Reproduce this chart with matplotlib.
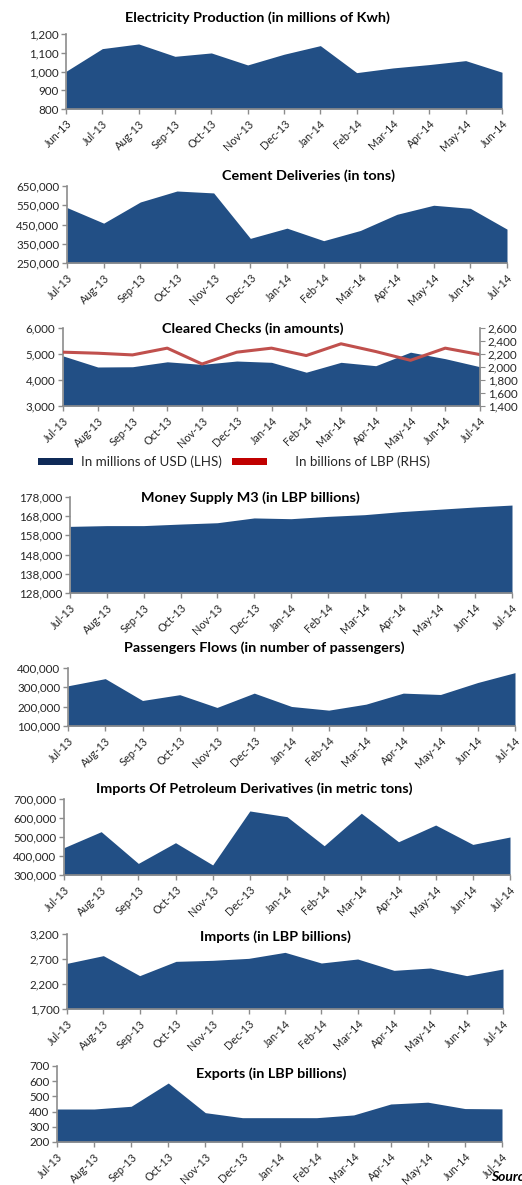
import numpy as np
import matplotlib
matplotlib.use("Agg")
import matplotlib.pyplot as plt
from matplotlib.patches import Patch

plt.rcParams['font.family'] = ['Lato', 'DejaVu Sans']

# ---- data ----
months_jun = ["Jun-13", "Jul-13", "Aug-13", "Sep-13", "Oct-13", "Nov-13", "Dec-13",
              "Jan-14", "Feb-14", "Mar-14", "Apr-14", "May-14", "Jun-14"]
months_jul = ["Jul-13", "Aug-13", "Sep-13", "Oct-13", "Nov-13", "Dec-13", "Jan-14",
              "Feb-14", "Mar-14", "Apr-14", "May-14", "Jun-14", "Jul-14"]

electricity = [1001, 1122, 1147, 1081, 1099, 1035, 1092, 1138, 994, 1019, 1037, 1058, 996]
cement = [538000, 457000, 567000, 624000, 614000, 378000, 431000, 366000, 419000,
          503000, 550000, 534000, 426000]
checks_usd = [4927, 4500, 4510, 4700, 4600, 4730, 4680, 4300, 4680, 4550, 5070, 4820, 4510]
checks_lbp = [2228, 2212, 2186, 2290, 2046, 2228, 2290, 2176, 2357, 2238, 2103, 2290, 2191]
money_m3 = [162700, 163100, 163100, 163900, 164600, 167100, 166700, 167900, 168800,
            170400, 171600, 172800, 173800]
passengers = [308000, 345000, 232000, 262000, 196000, 270000, 201000, 182000, 213000,
              270000, 263000, 325000, 376000]
petroleum = [444000, 528000, 361000, 470000, 353000, 637000, 607000, 454000, 625000,
             475000, 563000, 461000, 500000]
imports = [2613, 2767, 2367, 2653, 2673, 2713, 2833, 2620, 2700, 2473, 2520, 2367, 2500]
exports = [417, 417, 435, 588, 393, 360, 360, 360, 378, 450, 462, 420, 418]

FILL = "#224f85"
AXIS = "#8c8c8c"
TEXT = "#262626"
YTICK_SIZE = 8.4
XTICK_SIZE = 7.9
W, H = 522, 1185

fig = plt.figure(figsize=(W / 100, H / 100), dpi=100)


def box(left, top, right, bottom):
    return [left / W, 1 - bottom / H, (right - left) / W, (bottom - top) / H]


def area_panel(rect, values, labels, yticks, title, title_xy, fmt="{:,.0f}"):
    ax = fig.add_axes(box(*rect))
    x = np.arange(len(values))
    ax.fill_between(x, values, yticks[0], color=FILL, lw=0)
    ax.set_xlim(0, len(values) - 1)
    ax.set_ylim(yticks[0], yticks[-1])
    ax.set_yticks(yticks)
    ax.set_yticklabels([fmt.format(v) for v in yticks])
    ax.set_xticks(x)
    ax.set_xticklabels(labels, rotation=45, ha="right", rotation_mode="anchor")
    for s in ["top", "right"]:
        ax.spines[s].set_visible(False)
    for s in ["left", "bottom"]:
        ax.spines[s].set_color(AXIS)
        ax.spines[s].set_linewidth(1.2)
    ax.tick_params(axis="both", colors=AXIS, labelcolor=TEXT,
                   length=3.5, width=1, pad=2)
    ax.tick_params(axis="y", labelsize=YTICK_SIZE)
    ax.tick_params(axis="x", labelsize=XTICK_SIZE, pad=3)
    fig.text(title_xy[0] / W, 1 - title_xy[1] / H, title, ha="center", va="center",
             fontsize=10.4, fontweight="bold", color="black")
    return ax


area_panel((66, 34, 502, 109), electricity, months_jun, [800, 900, 1000, 1100, 1200],
           "Electricity Production (in millions of Kwh)", (257, 18))

area_panel((67, 186, 507, 263), cement, months_jul,
           [250000, 350000, 450000, 550000, 650000],
           "Cement Deliveries (in tons)", (308, 176))

ax3 = area_panel((63, 328, 480, 406), checks_usd, months_jul, [3000, 4000, 5000, 6000],
                 "Cleared Checks (in amounts)", (253, 329))
ax3r = ax3.twinx()
ax3r.plot(np.arange(len(checks_lbp)), checks_lbp, color="#c0504d", lw=2.2)
ax3r.set_ylim(1400, 2600)
rticks = [1400, 1600, 1800, 2000, 2200, 2400, 2600]
ax3r.set_yticks(rticks)
ax3r.set_yticklabels([f"{v:,}" for v in rticks])
for s in ["top", "left", "bottom"]:
    ax3r.spines[s].set_visible(False)
ax3r.spines["right"].set_color(AXIS)
ax3r.spines["right"].set_linewidth(1.2)
ax3r.tick_params(axis="y", colors=AXIS, labelcolor=TEXT, labelsize=YTICK_SIZE,
                 length=3.5, pad=2)

handles = [Patch(facecolor="#0f2a57", edgecolor="none"),
           Patch(facecolor="#c00000", edgecolor="none")]
fig.legend(handles, ["In millions of USD (LHS)", "      In billions of LBP (RHS)"],
           loc="center left", bbox_to_anchor=(26 / W, 1 - 462 / H), ncol=2,
           frameon=False, fontsize=9.6, handlelength=2.6, handleheight=0.5,
           handletextpad=0.6, columnspacing=0.8, labelcolor=TEXT)

area_panel((70, 497, 512, 593), money_m3, months_jul,
           [128000, 138000, 148000, 158000, 168000, 178000],
           "Money Supply M3 (in LBP billions)", (250, 498))

area_panel((68, 668, 515, 726), passengers, months_jul,
           [100000, 200000, 300000, 400000],
           "Passengers Flows (in number of passengers)", (264, 648))

area_panel((64, 799, 510, 875), petroleum, months_jul,
           [300000, 400000, 500000, 600000, 700000],
           "Imports Of Petroleum Derivatives (in metric tons)", (254, 789))

area_panel((67, 934, 503, 1009), imports, months_jul, [1700, 2200, 2700, 3200],
           "Imports (in LBP billions)", (275, 937))

area_panel((57, 1066, 502, 1142), exports, months_jul, [200, 300, 400, 500, 600, 700],
           "Exports (in LBP billions)", (271, 1074))

# source note, cut by the right edge as in the original
fig.text(491 / W, 1 - 1177 / H, "Source: ", ha="left", va="center", fontsize=10,
         fontweight="bold", fontstyle="italic", color="black")

fig.savefig("out.png", dpi=100)
